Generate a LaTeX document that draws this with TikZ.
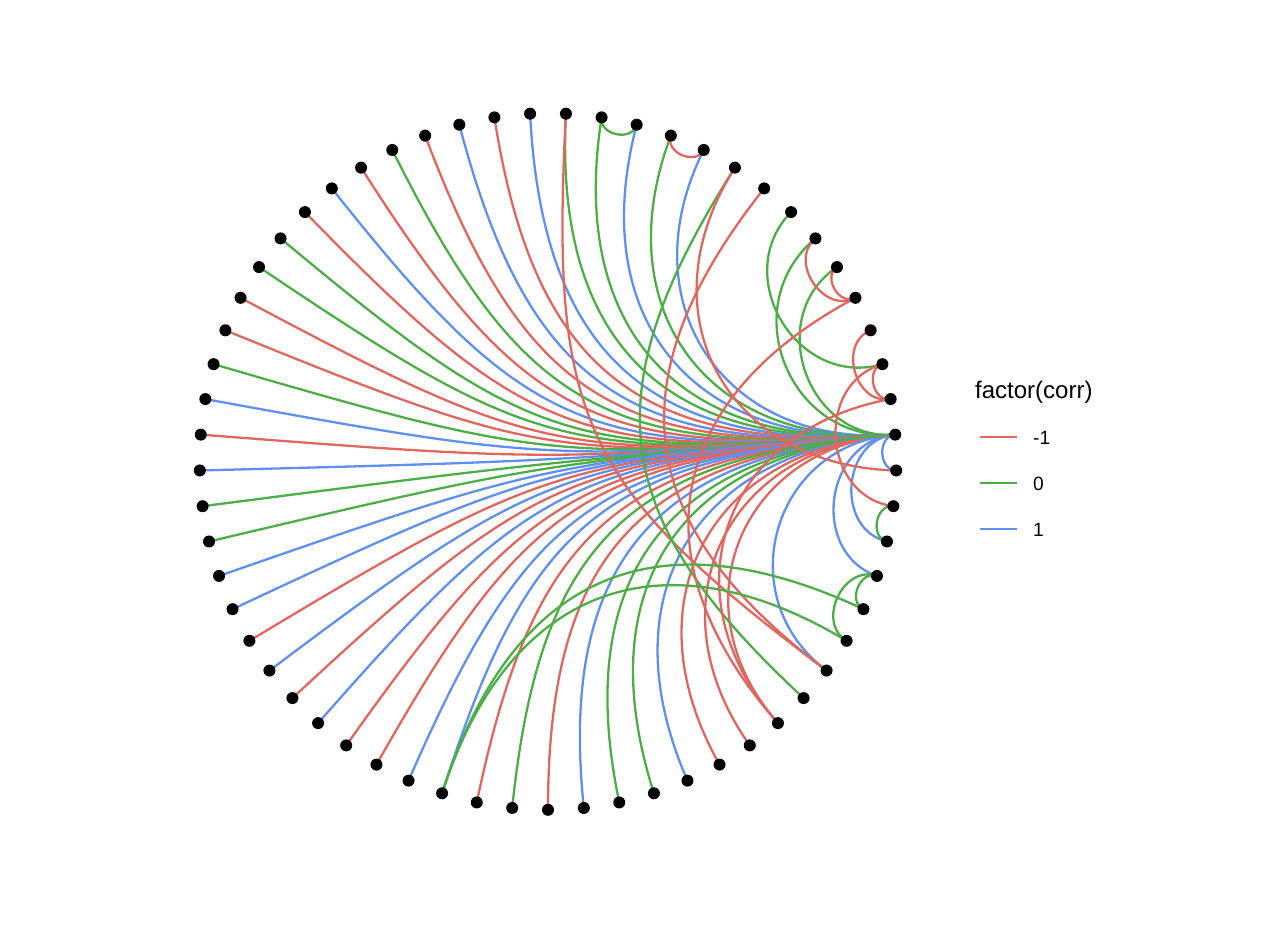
\documentclass[tikz,border=0pt]{standalone}
\usepackage{fontspec}
\setmainfont{Liberation Sans}
\pgfdeclarelayer{edges}
\pgfsetlayers{edges,main}
\definecolor{cR}{HTML}{E0675F}
\definecolor{cG}{HTML}{4DAE47}
\definecolor{cB}{HTML}{5F8FEF}
\tikzset{
  eline/.style={line width=2.3pt},
  eR/.style={eline,cR},
  eG/.style={eline,cG},
  eB/.style={eline,cB},
  dot/.style={circle,fill=black,inner sep=0pt,minimum size=12pt},
  legtext/.style={anchor=base west,inner sep=0pt}
}
% edge between node i and node j, bending toward the centre (ggraph arc)
\newcommand{\myedge}[3]{%
  \pgfmathsetmacro{\ai}{270+#1*5.9016393}%
  \pgfmathsetmacro{\aj}{270+#2*5.9016393}%
  \pgfmathsetmacro{\rf}{348.3*(1-abs(sin((\ai-\aj)/2)))}%
  \draw[#3] (n#1.center) .. controls (\ai:\rf) and (\aj:\rf) .. (n#2.center);%
}
\begin{document}
\begin{tikzpicture}[x=1pt,y=1pt]
\useasboundingbox (0,0) rectangle (1266,-932);
\begin{scope}[shift={(548,-461.5)}]
\foreach \k in {0,...,60} {\node[dot] (n\k) at ({270+\k*5.9016393}:348.3) {};}
\begin{pgfonlayer}{edges}
% hub edges
\foreach \k/\c in {0/eR,1/eB,2/eG,3/eG,4/eB,5/eR,6/eR,7/eR,9/eB,12/eB,13/eB,15/eB,
  21/eG,22/eG,26/eB,27/eG,28/eB,29/eG,30/eG,31/eB,32/eR,33/eB,34/eR,35/eG,36/eR,
  37/eB,38/eR,39/eG,40/eG,41/eR,42/eR,43/eG,44/eB,45/eR,46/eB,47/eG,48/eG,49/eB,
  50/eB,51/eR,52/eB,53/eR,54/eB,55/eR,56/eR,57/eB,58/eB,59/eR,60/eG}
  {\myedge{16}{\k}{\c}}
% other edges
\myedge{29}{28}{eG}
\myedge{27}{26}{eR}
\myedge{30}{9}{eR}
\myedge{24}{9}{eR}
\myedge{25}{8}{eG}
\myedge{25}{15}{eR}
\myedge{23}{18}{eG}
\myedge{22}{20}{eR}
\myedge{21}{20}{eR}
\myedge{20}{7}{eR}
\myedge{17}{7}{eR}
\myedge{19}{17}{eR}
\myedge{18}{17}{eR}
\myedge{18}{14}{eR}
\myedge{14}{13}{eG}
\myedge{12}{11}{eG}
\myedge{12}{10}{eG}
\myedge{58}{10}{eG}
\myedge{58}{11}{eG}
\end{pgfonlayer}
\end{scope}
% legend
\node[legtext,font=\fontsize{24}{28}\selectfont] (ttl) at (975,-398) {factor(corr)};
\draw[eR] (980,-437) -- (1017,-437);
\draw[eG] (980,-483) -- (1017,-483);
\draw[eB] (980,-529) -- (1017,-529);
\node[legtext,font=\fontsize{19.2}{23}\selectfont] (l1) at (1033,-444) {-1};
\node[legtext,font=\fontsize{19.2}{23}\selectfont] (l2) at (1033,-490) {0};
\node[legtext,font=\fontsize{19.2}{23}\selectfont] (l3) at (1033,-536) {1};
\end{tikzpicture}
\end{document}
